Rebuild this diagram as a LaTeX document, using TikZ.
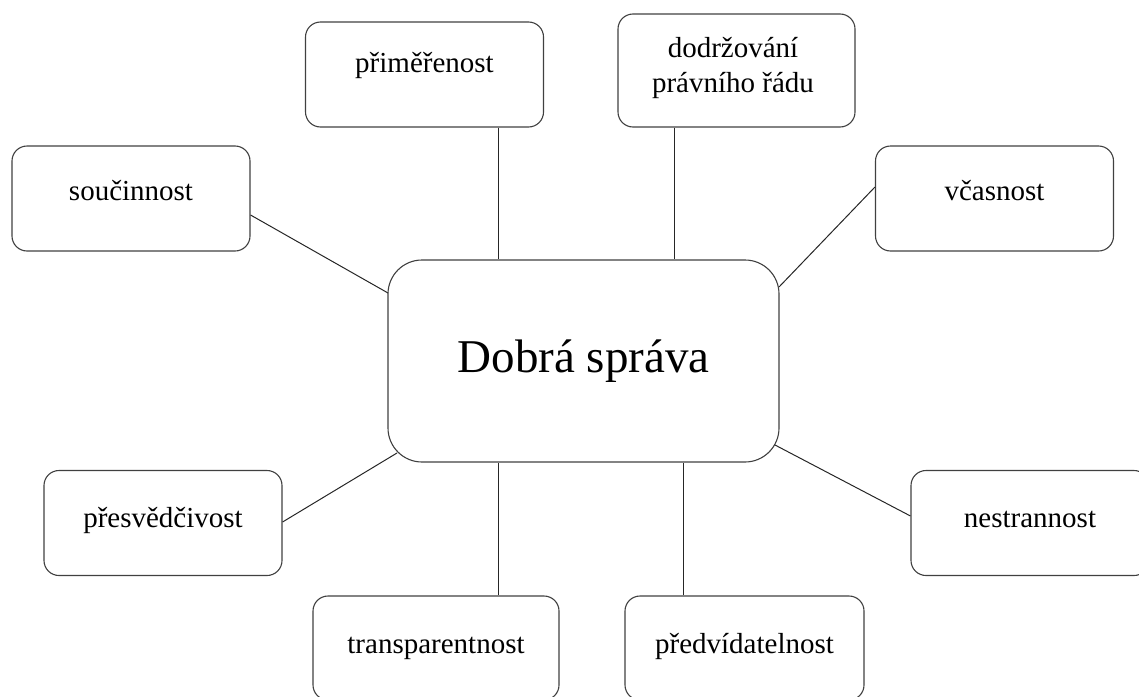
\documentclass[tikz,border=0pt]{standalone}
\usepackage{fontspec}
\setmainfont{Liberation Serif}
\begin{document}
\begin{tikzpicture}[x=1pt,y=-1pt,
  box/.style={draw=black!75, line width=1.1pt, rounded corners=15pt, minimum width=238pt, minimum height=105pt, inner sep=0pt},
  mainbox/.style={box, rounded corners=34pt, minimum width=391pt, minimum height=202pt},
  lbl/.style={font=\fontsize{29}{33}\selectfont, anchor=base, inner sep=0pt},
  mainlbl/.style={font=\fontsize{47}{54}\selectfont, anchor=base, inner sep=0pt},
  link/.style={draw=black!85, line width=1pt}]
\useasboundingbox (0,0) rectangle (1139,696);
% boxes
\node[box] (prim) at (424.5,74.5) {};
\node[box, minimum width=237pt, minimum height=113pt] (dodr) at (736.5,70.5) {};
\node[box] (souc) at (131,198.5) {};
\node[box] (vcas) at (994.5,198.5) {};
\node[mainbox] (main) at (583.5,361) {};
\node[box] (pres) at (163,523) {};
\node[box] (nest) at (1030,523) {};
\node[box, minimum width=246pt, minimum height=104pt] (tran) at (436,648) {};
\node[box, minimum width=239pt, minimum height=104pt] (pred) at (744.5,648) {};
% labels
\node[lbl] (tprim) at (424.5,72) {přiměřenost};
\node[lbl] (tdodr1) at (733,57) {dodržování};
\node[lbl] (tdodr2) at (733,92) {právního řádu};
\node[lbl] (tsouc) at (131,200) {součinnost};
\node[lbl] (tvcas) at (994.5,200) {včasnost};
\node[mainlbl] (tmain) at (583.5,372) {Dobrá správa};
\node[lbl] (tpres) at (163,527) {přesvědčivost};
\node[lbl] (tnest) at (1030,527) {nestrannost};
\node[lbl] (ttran) at (436,653) {transparentnost};
\node[lbl] (tpred) at (744.5,653) {předvídatelnost};
% connector end points on the central box corners
\coordinate (mnw) at (388,293);
\coordinate (mne) at (779,287);
\coordinate (msw) at (397,453);
\coordinate (mse) at (775,445);
% connectors
\draw[link] (498,0 |- prim.south) -- (498,0 |- main.north);
\draw[link] (674,0 |- dodr.south) -- (674,0 |- main.north);
\draw[link] (souc.east |- 0,215) -- (mnw);
\draw[link] (vcas.west |- 0,187) -- (mne);
\draw[link] (pres.east |- 0,522) -- (msw);
\draw[link] (nest.west |- 0,516) -- (mse);
\draw[link] (498,0 |- tran.north) -- (498,0 |- main.south);
\draw[link] (683,0 |- pred.north) -- (683,0 |- main.south);
\end{tikzpicture}
\end{document}
